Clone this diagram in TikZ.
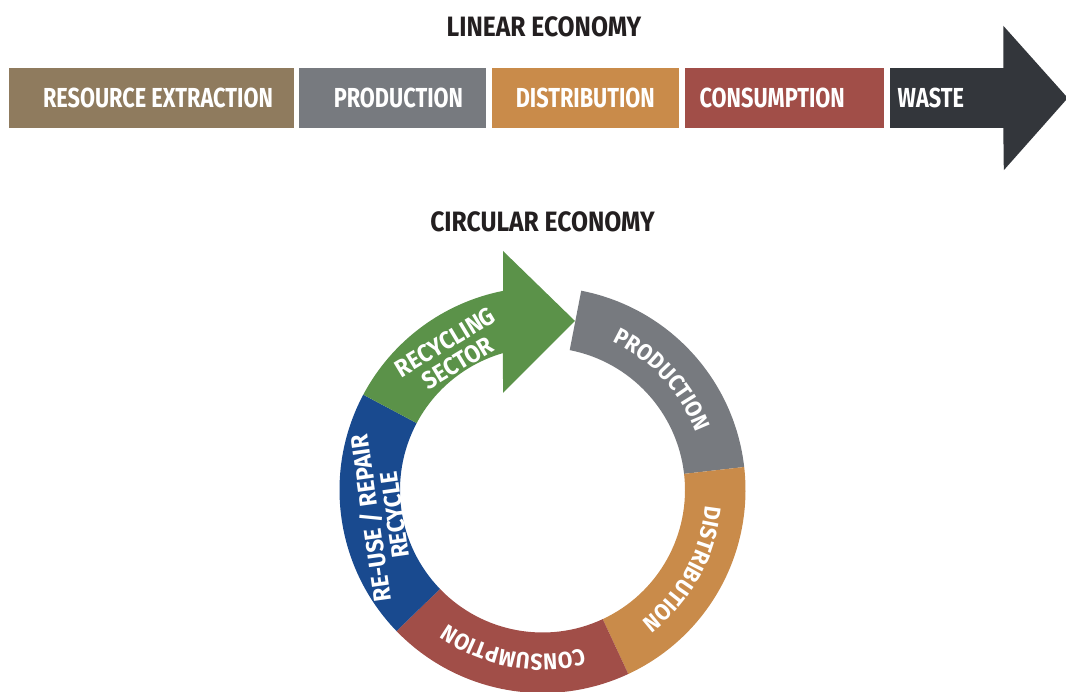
\documentclass[tikz,border=0pt]{standalone}
\usepackage{fontspec}
\newfontfamily\barfont{Fira Sans}[FakeStretch=0.79]
\newfontfamily\ttlfont{Fira Sans}[FakeStretch=0.88]
\newfontfamily\ringfont{Fira Sans}[FakeStretch=0.92]
\usetikzlibrary{positioning}
\usetikzlibrary{calc}
\usetikzlibrary{decorations.text}
\definecolor{extractbrown}{RGB}{143,123,94}
\definecolor{prodgray}{RGB}{119,122,127}
\definecolor{distorange}{RGB}{201,139,74}
\definecolor{consred}{RGB}{161,78,72}
\definecolor{wastedark}{RGB}{51,54,59}
\definecolor{recycgreen}{RGB}{91,146,73}
\definecolor{reuseblue}{RGB}{25,74,143}
\definecolor{titleblack}{RGB}{35,31,32}
\tikzset{stage/.style={minimum height=60pt, inner sep=0pt, text=white, font=\barfont\bfseries\fontsize{27.5}{30}\selectfont}}
\tikzset{ttl/.style={text=titleblack, font=\ttlfont\bfseries\fontsize{28}{30}\selectfont}}
\tikzset{seglbl/.style={text=white, align=center, font=\ringfont\bfseries\fontsize{24.5}{24}\selectfont}}
\tikzset{arclbl/.style={decorate, decoration={text along path, text align=center,
  text={|\ringfont\bfseries\fontsize{23}{25}\selectfont\color{white}|#1}}}}

\begin{document}
\begin{tikzpicture}[x=1pt,y=1pt]
\useasboundingbox (0,0) rectangle (1066,692);

% linear economy
\node[ttl] (lintitle) at (544,665.5) {LINEAR ECONOMY};

\node[stage, fill=extractbrown, minimum width=285pt] (extract) at (151.5,594) {\hspace*{13pt}RESOURCE EXTRACTION};
\node[stage, fill=prodgray, minimum width=187pt, right=5pt of extract] (prod) {\hspace*{11pt}PRODUCTION};
\node[stage, fill=distorange, minimum width=187pt, right=5pt of prod] (dist) {DISTRIBUTION};
\node[stage, fill=consred, minimum width=199pt, right=6pt of dist] (cons) {CONSUMPTION\hspace*{25pt}};
\node[stage, fill=wastedark, text width=98pt, inner xsep=8pt, align=left, right=5pt of cons] (waste) {WASTE};

\fill[wastedark] ([xshift=-0.5pt]waste.north east) -- ++(0,42)
  -- ($(waste.east)+(64,0)$)
  -- ($(waste.south east)+(0,-42)$)
  -- ([xshift=-0.5pt]waste.south east) -- cycle;

% circular economy
\node[ttl] (circtitle) at (542.5,470) {CIRCULAR ECONOMY};

\coordinate (c) at (542.5,202);

\foreach \from/\to/\col in {79/6.5/prodgray, 6.5/-65/distorange, -65/-136/consred, -136/-208/reuseblue}
  \fill[\col] ($(c)+(\from:203)$) arc[start angle=\from, end angle=\to, radius=203]
    -- ($(c)+(\to:142.5)$) arc[start angle=\to, end angle=\from, radius=142.5] -- cycle;

\fill[recycgreen] ($(c)+(152:203)$) arc[start angle=152, end angle=101.2, radius=203]
  -- ($(c)+(-39.5,239)$)
  -- ($(c)+(32.5,169)$)
  -- ($(c)+(-39.5,97)$)
  -- ($(c)+(106.1:142.5)$) arc[start angle=106.1, end angle=152, radius=142.5] -- cycle;

\path[arclbl=PRODUCTION] ($(c)+(79:164)$) arc[start angle=79, end angle=6.5, radius=164];
\path[arclbl=DISTRIBUTION] ($(c)+(6.5:164)$) arc[start angle=6.5, end angle=-65, radius=164];
\path[arclbl=CONSUMPTION] ($(c)+(-65:164)$) arc[start angle=-65, end angle=-136, radius=164];

\node[seglbl, rotate=98] (reuse) at ($(c)+(189.5:163)$) {RE-USE / REPAIR\\RECYCLE};
\node[seglbl, rotate=31] (recyc) at ($(c)+(123.5:165)$) {RECYCLING\\SECTOR};

\end{tikzpicture}
\end{document}
